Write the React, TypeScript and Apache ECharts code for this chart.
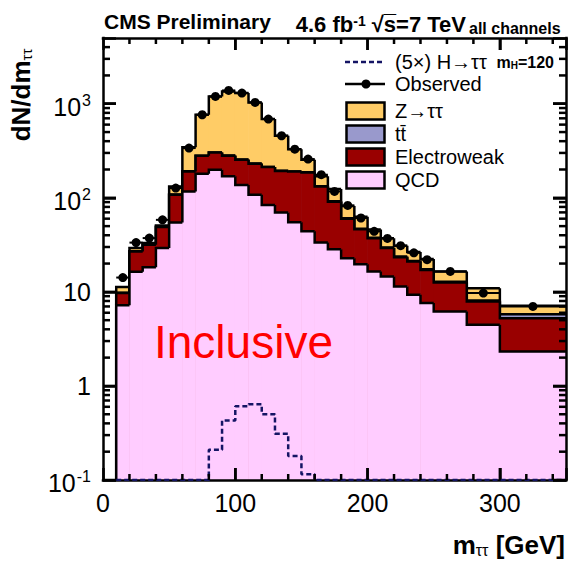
import React, { useEffect, useRef } from 'react';
import * as echarts from 'echarts';

// ---------------- data ----------------
const BIN_EDGES = [10, 20, 30, 40, 50, 60, 70, 80, 90, 100, 110, 120, 130, 140, 150, 160, 170, 180, 190, 200, 210, 220, 230, 240, 250, 275, 300, 350];
const QCD = [7.2, 16.4, 18.3, 29.2, 54.6, 117, 180, 199, 169, 137, 108, 84, 70, 55, 44, 33.5, 28.4, 22.8, 19.7, 16.5, 14.6, 11.4, 9.3, 7.6, 6.2, 4.46, 2.32];
const ELECTROWEAK = [2.5, 10.4, 13.3, 19.8, 53.4, 74, 100, 104, 111, 117, 122, 128, 123, 135, 142, 98.5, 62.6, 37.2, 26.7, 20.7, 14.6, 12.0, 11.7, 9.5, 6.4, 3.44, 2.93];
const TTBAR = [0.1, 0.2, 0.2, 0.3, 0.4, 0.6, 0.8, 1.0, 1.1, 1.2, 1.2, 1.2, 1.1, 1.0, 0.9, 0.8, 0.7, 0.6, 0.5, 0.5, 0.4, 0.4, 0.35, 0.3, 0.25, 0.2, 0.55];
const ZTT = [1.5, 2.2, 1.2, 1.4, 23.6, 154, 483, 893, 1072, 1044, 802, 474, 263, 138, 67, 37, 32, 21.4, 16.1, 8.3, 7.6, 7.1, 5.15, 4.9, 3.65, 2.8, 1.3];
const OBSERVED = [14.2, 33.4, 37.3, 58.3, 127, 338, 764, 1197, 1386, 1299, 1033, 687, 457, 329, 258, 176, 117, 83, 61, 44, 37, 31, 26, 22, 16.5, 9.7, 7.0];
const HIGGS_X5 = [0.005, 0.008, 0.01, 0.015, 0.02, 0.03, 0.07, 0.21, 0.43, 0.61, 0.64, 0.5, 0.31, 0.18, 0.115, 0.06, 0.03, 0.02, 0.012, 0.008, 0.005, 0.004, 0.003, 0.002, 0.002, 0.001, 0.001];

const X_LABEL_VALUES = [0, 100, 200, 300];
const X_LABELS = ['0', '100', '200', '300'];
const X_MAJOR_TICKS = [100, 200, 300];
const X_MINOR_TICKS = [20, 40, 60, 80, 120, 140, 160, 180, 220, 240, 260, 280, 320, 340];
const Y_DECADES = [0.1, 1, 10, 100, 1000];
const Y_LABELS = ['{b|10}{s|-1}', '{n|1}', '{n|10}', '{b|10}{s|2}', '{b|10}{s|3}'];
const Y_MINOR_TICKS = Y_DECADES.flatMap((d) => [2, 3, 4, 5, 6, 7, 8, 9].map((k) => +(k * d).toPrecision(3))).filter((v) => v < 5000);

const LEGEND_LABELS = ['(5×) H→ττ', 'Observed', 'Z→ττ', 't\u0074\u0304', 'Electroweak', 'QCD'];

// ---------------- styling ----------------
const X_MIN = 0;
const X_MAX = 350;
const Y_MIN = 0.1;
const Y_MAX = 5000;
const FONT = '"Liberation Sans", Arial, Helvetica, sans-serif';
const C_QCD = '#ffccff';
const C_EW = '#990000';
const C_TT = '#9999cc';
const C_ZTT = '#ffcc66';
const C_H = '#141464';
const OUTLINE = 2.5;

const cumulate = (...arrs: number[][]) => arrs[0].map((_, i) => arrs.reduce((s, a) => s + a[i], 0));
const CUM_QCD = QCD.slice();
const CUM_EW = cumulate(QCD, ELECTROWEAK);
const CUM_TT = cumulate(QCD, ELECTROWEAK, TTBAR);
const CUM_Z = cumulate(QCD, ELECTROWEAK, TTBAR, ZTT);

function histSeries(name: string, cum: number[], color: string, z: number) {
  return {
    type: 'custom',
    name,
    z,
    silent: true,
    clip: false,
    encode: { x: [0, 1], y: 2 },
    data: cum.map((v, i) => [BIN_EDGES[i], BIN_EDGES[i + 1], v]),
    renderItem: (params: any, api: any) => {
      const i = params.dataIndex;
      const x0 = api.value(0);
      const x1 = api.value(1);
      const top = api.value(2);
      const prev = i > 0 ? cum[i - 1] : Y_MIN;
      const bl = api.coord([x0, Y_MIN]);
      const tr = api.coord([x1, top]);
      const pv = api.coord([x0, prev]);
      return {
        type: 'group',
        children: [
          {
            type: 'rect',
            z2: 0,
            shape: { x: bl[0] - 0.3, y: tr[1], width: tr[0] - bl[0] + 0.6, height: bl[1] - tr[1] },
            style: { fill: color },
          },
          {
            type: 'polyline',
            z2: 1,
            shape: { points: [[pv[0], pv[1]], [bl[0], tr[1]], [tr[0], tr[1]]] },
            style: { stroke: '#000', lineWidth: OUTLINE, fill: null, lineJoin: 'miter' },
          },
        ],
      };
    },
  };
}

export default function App() {
  const ref = useRef<HTMLDivElement>(null);
  useEffect(() => {
    if (!ref.current) return;
    const chart = echarts.init(ref.current, undefined, { renderer: 'svg' });

    const centers = BIN_EDGES.slice(0, -1).map((x, i) => (x + BIN_EDGES[i + 1]) / 2);
    const higgsLine = BIN_EDGES.map((x, i) => [x, Math.max(Y_MIN, HIGGS_X5[Math.min(i, HIGGS_X5.length - 1)])]);

    const axisLineStyle = { color: '#000', width: 2.5, cap: 'square' };
    const textBase = { fontFamily: FONT, color: '#000' };
    const tick = (len: number) => ({ show: true, inside: true, length: len, lineStyle: { color: '#000', width: 2.5 } });
    const txt = (text: string, x: number, y: number, extra: any = {}) => ({
      type: 'text', x, y, z: 100,
      style: { text, fontFamily: FONT, fontSize: 20, fill: '#000', align: 'left', verticalAlign: 'middle', textAlign: 'left', textVerticalAlign: 'middle', ...extra },
    });

    const option: any = {
      animation: false,
      backgroundColor: '#fff',
      grid: { left: 103, right: 6, top: 38, bottom: 81, containLabel: false, outerBoundsMode: 'none' },
      xAxis: [
        {
          type: 'value', position: 'bottom', min: X_MIN, max: X_MAX, interval: 100, z: 10,
          axisLine: { show: true, onZero: false, lineStyle: axisLineStyle },
          axisTick: tick(12), splitLine: { show: false },
          axisLabel: {
            margin: 10, fontSize: 25, ...textBase,
            formatter: (v: number) => { const k = X_LABEL_VALUES.indexOf(Math.round(v)); return k >= 0 ? X_LABELS[k] : ''; },
          },
        },
        {
          type: 'value', position: 'top', min: X_MIN, max: X_MAX, interval: 100, z: 10,
          axisLine: { show: true, onZero: false, lineStyle: axisLineStyle },
          axisTick: tick(12), splitLine: { show: false }, axisLabel: { show: false },
        },
      ],
      yAxis: [
        {
          type: 'log', logBase: 10, position: 'left', min: Y_MIN, max: Y_MAX, z: 10,
          axisLine: { show: true, onZero: false, lineStyle: axisLineStyle },
          axisTick: tick(13), splitLine: { show: false }, minorTick: { show: false },
          axisLabel: {
            margin: 12, ...textBase, fontSize: 25,
            formatter: (v: number) => {
              const l = Math.log10(v);
              const k = Y_DECADES.findIndex((d) => Math.abs(Math.log10(d) - l) < 1e-6);
              return k >= 0 ? Y_LABELS[k] : '';
            },
            rich: {
              n: { fontSize: 25, ...textBase, verticalAlign: 'bottom' },
              b: { fontSize: 25, ...textBase, padding: [6, 0, 0, 0], verticalAlign: 'bottom' },
              s: { fontSize: 16, ...textBase, padding: [4, 0, 0, 1], verticalAlign: 'top' },
            },
          },
        },
        {
          type: 'log', logBase: 10, position: 'right', min: Y_MIN, max: Y_MAX, z: 10,
          axisLine: { show: true, onZero: false, lineStyle: axisLineStyle },
          axisTick: tick(13), splitLine: { show: false }, axisLabel: { show: false },
        },
      ],
      series: [
        histSeries('Z→ττ', CUM_Z, C_ZTT, 2),
        histSeries('tt̄', CUM_TT, C_TT, 3),
        histSeries('Electroweak', CUM_EW, C_EW, 4),
        histSeries('QCD', CUM_QCD, C_QCD, 5),
        {
          type: 'line', name: '(5×) H→ττ', z: 11, silent: true, step: 'end', symbol: 'none',
          data: higgsLine,
          lineStyle: { color: C_H, width: 2.5, type: [5, 3] },
        },
        {
          type: 'scatter', name: 'Observed', z: 13, silent: true, symbol: 'circle', symbolSize: 9,
          itemStyle: { color: '#000', opacity: 1 },
          data: OBSERVED.map((v, i) => [centers[i], v]),
        },
      ],
    };
    chart.setOption(option);

    // frame ticks and observed bin-width bars, placed with the chart's own scales
    const px = (x: number, y: number): number[] => {
      const p = chart.convertToPixel({ gridIndex: 0 }, [x, y]) as any;
      return Array.isArray(p) ? p : [NaN, NaN];
    };
    const ln = (a: number[], b: number[], w: number) => ({
      type: 'line', z: 100, silent: true,
      shape: { x1: a[0], y1: a[1], x2: b[0], y2: b[1] },
      style: { stroke: '#000', lineWidth: w },
    });
    const overlay: any[] = [];
    const yTick = (v: number, len: number) => {
      const l = px(X_MIN, v);
      const r = px(X_MAX, v);
      overlay.push(ln(l, [l[0] + len, l[1]], 2.5), ln(r, [r[0] - len, r[1]], 2.5));
    };
    const xTick = (v: number, len: number) => {
      const b = px(v, Y_MIN);
      const t = px(v, Y_MAX);
      overlay.push(ln(b, [b[0], b[1] - len], 2.5), ln(t, [t[0], t[1] + len], 2.5));
    };
    Y_DECADES.forEach((v) => yTick(v, 13));
    Y_MINOR_TICKS.forEach((v) => yTick(v, 7));
    X_MAJOR_TICKS.forEach((v) => xTick(v, 12));
    X_MINOR_TICKS.forEach((v) => xTick(v, 6));
    OBSERVED.forEach((v, i) => overlay.push(ln(px(BIN_EDGES[i], v), px(BIN_EDGES[i + 1], v), 2)));
    const validOverlay = overlay.filter((e) => [e.shape.x1, e.shape.y1, e.shape.x2, e.shape.y2].every((n) => Number.isFinite(n)));

    chart.setOption({
      graphic: [
        ...validOverlay,
        // header
        txt('CMS Preliminary', 104, 21, { fontSize: 21, fontWeight: 'bold' }),
        {
          type: 'text', x: 466, y: 24.5, z: 100,
          style: {
            text: '{m|4.6 fb}{sup|-1}{m| √s\u0305=7 TeV}', fill: '#000', align: 'right', verticalAlign: 'middle', textAlign: 'right', textVerticalAlign: 'middle',
            rich: {
              m: { fontFamily: FONT, fontSize: 22, fontWeight: 'bold', fill: '#000', color: '#000', verticalAlign: 'bottom' },
              sup: { fontFamily: FONT, fontSize: 14, fontWeight: 'bold', fill: '#000', color: '#000', verticalAlign: 'top' },
            },
          },
        },
        txt('all channels', 469, 28, { fontSize: 16, fontWeight: 'bold' }),
        // y title
        {
          type: 'text', x: 21, y: 95, rotation: Math.PI / 2, z: 100,
          style: {
            text: '{b|dN/dm}{s|ττ}', fill: '#000', align: 'center', verticalAlign: 'middle', textAlign: 'center', textVerticalAlign: 'middle',
            rich: {
              b: { fontFamily: FONT, fontSize: 26, fontWeight: 'bold', fill: '#000', color: '#000', verticalAlign: 'bottom' },
              s: { fontFamily: FONT, fontSize: 15, fill: '#000', color: '#000', verticalAlign: 'bottom' },
            },
          },
        },
        // x title
        {
          type: 'text', x: 565, y: 545, z: 100,
          style: {
            text: '{b|m}{s|ττ}{b| [GeV]}', fill: '#000', align: 'right', verticalAlign: 'middle', textAlign: 'right', textVerticalAlign: 'middle',
            rich: {
              b: { fontFamily: FONT, fontSize: 26, fontWeight: 'bold', fill: '#000', color: '#000', verticalAlign: 'bottom' },
              s: { fontFamily: FONT, fontSize: 16, fill: '#000', color: '#000', verticalAlign: 'bottom' },
            },
          },
        },
        // category label
        txt('Inclusive', 154, 342, { fontSize: 46, fill: '#ff0000' }),
        // legend
        { type: 'line', z: 100, shape: { x1: 345, y1: 62, x2: 385, y2: 62 }, style: { stroke: C_H, lineWidth: 2.5, lineDash: [5, 3] } },
        txt(LEGEND_LABELS[0], 395, 62),
        {
          type: 'text', x: 554, y: 62, z: 100,
          style: {
            text: '{b|m}{s|H}{b|=120}', fill: '#000', align: 'right', verticalAlign: 'middle', textAlign: 'right', textVerticalAlign: 'middle',
            rich: {
              b: { fontFamily: FONT, fontSize: 16, fontWeight: 'bold', fill: '#000', color: '#000', verticalAlign: 'bottom' },
              s: { fontFamily: FONT, fontSize: 10, fontWeight: 'bold', fill: '#000', color: '#000', verticalAlign: 'bottom' },
            },
          },
        },
        { type: 'line', z: 100, shape: { x1: 345, y1: 84, x2: 385, y2: 84 }, style: { stroke: '#000', lineWidth: 2.5 } },
        { type: 'circle', z: 100, shape: { cx: 366, cy: 84, r: 4.5 }, style: { fill: '#000' } },
        txt(LEGEND_LABELS[1], 395, 84),
        ...[C_ZTT, C_TT, C_EW, C_QCD].flatMap((c, k) => {
          const cy = 111 + k * 23;
          return [
            { type: 'rect', z: 100, shape: { x: 346.5, y: cy - 8.5, width: 38, height: 17 }, style: { fill: c, stroke: '#000', lineWidth: 2.5 } },
            txt(LEGEND_LABELS[k + 2], 395, cy),
          ];
        }),
      ],
    });

    return () => chart.dispose();
  }, []);

  return (
    <div
      ref={ref}
      style={{ position: 'fixed', left: 0, top: 0, width: 572, height: 561, background: '#fff' }}
    />
  );
}
